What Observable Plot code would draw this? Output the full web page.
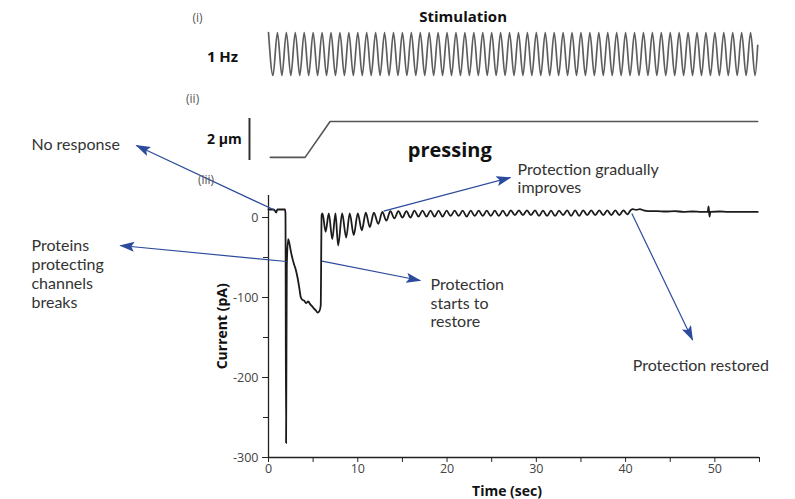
<!DOCTYPE html>
<html>
<head>
<meta charset="utf-8">
<script src="https://cdn.jsdelivr.net/npm/d3@7"></script>
<script src="https://cdn.jsdelivr.net/npm/@observablehq/plot@0.6"></script>
<style>
  html, body { margin: 0; padding: 0; background: #fff; }
  #chart { position: relative; width: 795px; height: 499px; overflow: hidden; background: #fff; }
  #chart svg { position: absolute; left: 0; }
</style>
</head>
<body>
<div id="chart"></div>
<script>
// ---------- DATA ----------
// (i) stimulation: 1 Hz sinusoid, extremes (time s, level)
const stimTimes = [0,0.5,1,1.5,2,2.5,3,3.5,4,4.5,5,5.5,6,6.5,7,7.5,8,8.5,9,9.5,
  10,10.5,11,11.5,12,12.5,13,13.5,14,14.5,15,15.5,16,16.5,17,17.5,18,18.5,19,19.5,
  20,20.5,21,21.5,22,22.5,23,23.5,24,24.5,25,25.5,26,26.5,27,27.5,28,28.5,29,29.5,
  30,30.5,31,31.5,32,32.5,33,33.5,34,34.5,35,35.5,36,36.5,37,37.5,38,38.5,39,39.5,
  40,40.5,41,41.5,42,42.5,43,43.5,44,44.5,45,45.5,46,46.5,47,47.5,48,48.5,49,49.5,
  50,50.5,51,51.5,52,52.5,53,53.5,54,54.5,54.8];
const stimLevels = [1,-1,1,-1,1,-1,1,-1,1,-1,1,-1,1,-1,1,-1,1,-1,1,-1,
  1,-1,1,-1,1,-1,1,-1,1,-1,1,-1,1,-1,1,-1,1,-1,1,-1,
  1,-1,1,-1,1,-1,1,-1,1,-1,1,-1,1,-1,1,-1,1,-1,1,-1,
  1,-1,1,-1,1,-1,1,-1,1,-1,1,-1,1,-1,1,-1,1,-1,1,-1,
  1,-1,1,-1,1,-1,1,-1,1,-1,1,-1,1,-1,1,-1,1,-1,1,-1,
  1,-1,1,-1,1,-1,1,-1,1,-1,0.4];

// (ii) pressing displacement (time s, µm)
const pressTimes = [0.2, 4.1, 6.9, 54.8];
const pressUm = [0.15, 0.15, 1.86, 1.86];
const scaleBarUm = [0, 2];

// (iii) current response (time s, pA)
const responseTrace = [
  [0,10],[0.5,10],[0.7,9],[0.85,6],[1.0,10],[1.85,10],[1.9,5],[1.97,-282],[2.05,-60],[2.2,-27],
  [2.35,-33],[2.5,-42],[2.7,-52],[2.85,-58],[3.05,-65],[3.25,-75],[3.45,-88],[3.6,-99],[3.8,-103],[4.0,-104],
  [4.2,-107],[4.45,-105],[4.7,-109],[4.9,-111],[5.1,-114],[5.3,-116],[5.5,-119],[5.7,-117],[5.85,-110],[5.95,3],
  [6.05,5],[6.4,-18],[6.75,5],[7.15,-27],[7.5,5],[7.8,-35],[8.25,5],[8.7,-25],[9.1,5],[9.55,-22],
  [10.0,5],[10.45,-16],[10.9,6],[11.35,-12],[11.8,6],[12.3,-8],[12.75,7],[13.2,-4],[13.65,8],[14.1,-1],
  [14.55,8],[15.0,0],[15.45,8],[15.9,0],[16.35,8.5],[16.8,1],[17.25,8.5],[17.7,1],[18.15,8.5],[18.6,1],
  [19.05,8.5],[19.5,1],[19.95,8.5],[20.4,2],[20.85,8.5],[21.3,2],[21.75,8.5],[22.2,1],[22.65,8.5],[23.1,2],
  [23.55,8.5],[24.0,2],[24.45,8.5],[24.9,2],[25.35,8.5],[25.8,2],[26.25,8.5],[26.7,2],[27.15,9],[27.6,3],
  [28.05,9],[28.5,3],[28.95,9],[29.4,3],[29.85,9],[30.3,2],[30.75,8.5],[31.2,2],[31.65,8.5],[32.1,2],
  [32.55,8.5],[33.0,3],[33.45,9],[33.9,2],[34.35,9],[34.8,2],[35.25,9],[35.7,3],[36.15,9],[36.6,3],
  [37.05,9],[37.5,3],[37.95,9],[38.4,3],[38.85,9],[39.3,3],[39.75,9],[40.2,4],[40.6,9.5],[40.8,10.5],
  [41.2,9.5],[41.6,10.5],[42.0,9],[42.5,8],[43.5,8],[44.5,7.5],[45.5,8],[46.5,7],[47.5,7.5],[48.5,7],
  [49.2,7],[49.3,14],[49.4,1],[49.5,7],[50.5,7.5],[51.5,7],[52.5,7],[53.5,7],[54.5,7],[54.8,7]
];

const xMajorTicks = [0, 10, 20, 30, 40, 50];
const xMinorTicks = [5, 15, 25, 35, 45, 55];
const yMajorTicks = [0, -100, -200, -300];
const yMinorTicks = [-50, -150, -250];

// annotations, in (time s, current pA) of panel (iii)
const noteTexts = ["No response", "Proteins\nprotecting\nchannels\nbreaks", "Protection\nstarts to\nrestore", "Protection gradually\nimproves", "Protection restored"];
const noteX = [-26.55, -26.55, 18.15, 27.9, 40.8];
const noteY = [92.5, -70, -106.6, 49.4, -183.75];
const arrowFromX = [0.6, 2.0, 6.0, 12.9, 40.7];
const arrowFromY = [9.6, -55, -54.6, 7.9, 5];
const arrowToX = [-14.8, -16.6, 17.0, 27.1, 47.5];
const arrowToY = [90, -35, -78.75, 50, -153];

// ---------- DRAWING ----------
const W = 795;
const ARROW = "#2c4b9c";
const TEXT = "#333";
const chart = document.getElementById("chart");

function headMarker(color, context) {
  const ns = "http://www.w3.org/2000/svg";
  const doc = (context && context.document) || document;
  const m = doc.createElementNS(ns, "marker");
  m.setAttribute("viewBox", "0 -5 15 10");
  m.setAttribute("refX", "14");
  m.setAttribute("refY", "0");
  m.setAttribute("markerUnits", "userSpaceOnUse");
  m.setAttribute("markerWidth", "15");
  m.setAttribute("markerHeight", "10");
  m.setAttribute("orient", "auto");
  const p = doc.createElementNS(ns, "path");
  p.setAttribute("d", "M0,-5L15,0L0,5L3,0Z");
  p.setAttribute("fill", color);
  p.setAttribute("stroke", "none");
  m.appendChild(p);
  return m;
}

function mainPlot(useMarker) {
  const arrowMark = useMarker
    ? Plot.link(arrowFromX, {x1: arrowFromX, y1: arrowFromY, x2: arrowToX, y2: arrowToY,
        stroke: ARROW, strokeWidth: 1.2, markerEnd: headMarker})
    : Plot.arrow(arrowFromX, {x1: arrowFromX, y1: arrowFromY, x2: arrowToX, y2: arrowToY,
        stroke: ARROW, strokeWidth: 1.2, headLength: 12, headAngle: 40});
  return Plot.plot({
    width: W, height: 499,
    marginLeft: 268, marginRight: 36, marginTop: 195, marginBottom: 42,
    style: {background: "transparent", overflow: "visible", fontFamily: "Open Sans", fontSize: "12.5px", color: "#222"},
    x: {domain: [0, 55], axis: null},
    y: {domain: [-300, 27.5], axis: null},
    marks: [
      Plot.ruleX([0], {stroke: "#222", strokeWidth: 1.3}),
      Plot.ruleY([-300], {stroke: "#222", strokeWidth: 1.3}),
      Plot.axisY({ticks: yMajorTicks, tickSize: 6, tickPadding: 4, tickFormat: d => String(d), label: null, fill: "#444"}),
      Plot.axisY({ticks: yMinorTicks, tickSize: 5, tickFormat: () => "", label: null}),
      Plot.axisX({ticks: xMajorTicks, tickSize: 5, tickPadding: 2, tickFormat: d => String(d), label: null, fill: "#444"}),
      Plot.axisX({ticks: xMinorTicks, tickSize: 5, tickFormat: () => "", label: null}),
      Plot.line(responseTrace, {x: d => d[0], y: d => d[1], curve: "monotone-x", stroke: "#1b1b1b", strokeWidth: 1.8}),
      arrowMark,
      Plot.text(noteTexts, {x: noteX, y: noteY, text: noteTexts, textAnchor: "start", lineAnchor: "middle",
        fontFamily: "Lato", fontSize: 16, lineHeight: 1.17, fill: TEXT}),
      Plot.text(["Current (pA)"], {x: [-5.2], y: [-136], text: ["Current (pA)"], textAnchor: "middle", lineAnchor: "middle",
        rotate: -90, fontWeight: "bold", fontSize: 14, fill: "#111"}),
      Plot.text(["Time (sec)"], {frameAnchor: "bottom", textAnchor: "middle", lineAnchor: "middle", dx: -7, dy: 34,
        fontWeight: "bold", fontSize: 14, fill: "#111"}),
      Plot.text(["(iii)"], {x: [-7.0], y: [46.5], text: ["(iii)"], fontSize: 12, fill: "#555"})
    ]
  });
}

let main;
try { main = mainPlot(true); } catch (e) { main = mainPlot(false); }
main.style.top = "0px";
chart.appendChild(main);

const stim = Plot.plot({
  width: W, height: 90,
  marginLeft: 268, marginRight: 36, marginTop: 32, marginBottom: 15,
  style: {background: "transparent", overflow: "visible", fontFamily: "Open Sans", fontSize: "12px"},
  x: {domain: [0, 55], axis: null},
  y: {domain: [-1, 1], axis: null},
  marks: [
    Plot.line(stimTimes, {x: stimTimes, y: stimLevels, curve: "monotone-x", stroke: "#5e5e5e", strokeWidth: 1.7}),
    Plot.text(["Stimulation"], {x: [21.8], y: [1.7], text: ["Stimulation"], fontWeight: "bold", fontSize: 15, fill: "#111"}),
    Plot.text(["(i)"], {x: [-7.95], y: [1.65], text: ["(i)"], fontSize: 12, fill: "#555"}),
    Plot.text(["1 Hz"], {x: [-5.15], y: [-0.16], text: ["1 Hz"], fontWeight: "bold", fontSize: 15, fill: "#111"})
  ]
});
stim.style.top = "0px";
chart.appendChild(stim);

const press = Plot.plot({
  width: W, height: 80,
  marginLeft: 268, marginRight: 36, marginTop: 28, marginBottom: 10,
  style: {background: "transparent", overflow: "visible", fontFamily: "Open Sans", fontSize: "12px"},
  x: {domain: [0, 55], axis: null},
  y: {domain: [0, 2], axis: null},
  marks: [
    Plot.line(pressTimes, {x: pressTimes, y: pressUm, stroke: "#555", strokeWidth: 1.6}),
    Plot.ruleX([-2.13], {y1: scaleBarUm[0], y2: scaleBarUm[1], stroke: "#333", strokeWidth: 2}),
    Plot.text(["2 µm"], {x: [-3.0], y: [1.0], text: ["2 µm"], textAnchor: "end", fontWeight: "bold", fontSize: 14, fill: "#111"}),
    Plot.text(["(ii)"], {x: [-8.5], y: [2.9], text: ["(ii)"], fontSize: 12, fill: "#555"}),
    Plot.text(["pressing"], {x: [20.3], y: [0.48], text: ["pressing"], fontWeight: "bold", fontSize: 20, fill: "#111"})
  ]
});
press.style.top = "90px";
chart.appendChild(press);
</script>
</body>
</html>
